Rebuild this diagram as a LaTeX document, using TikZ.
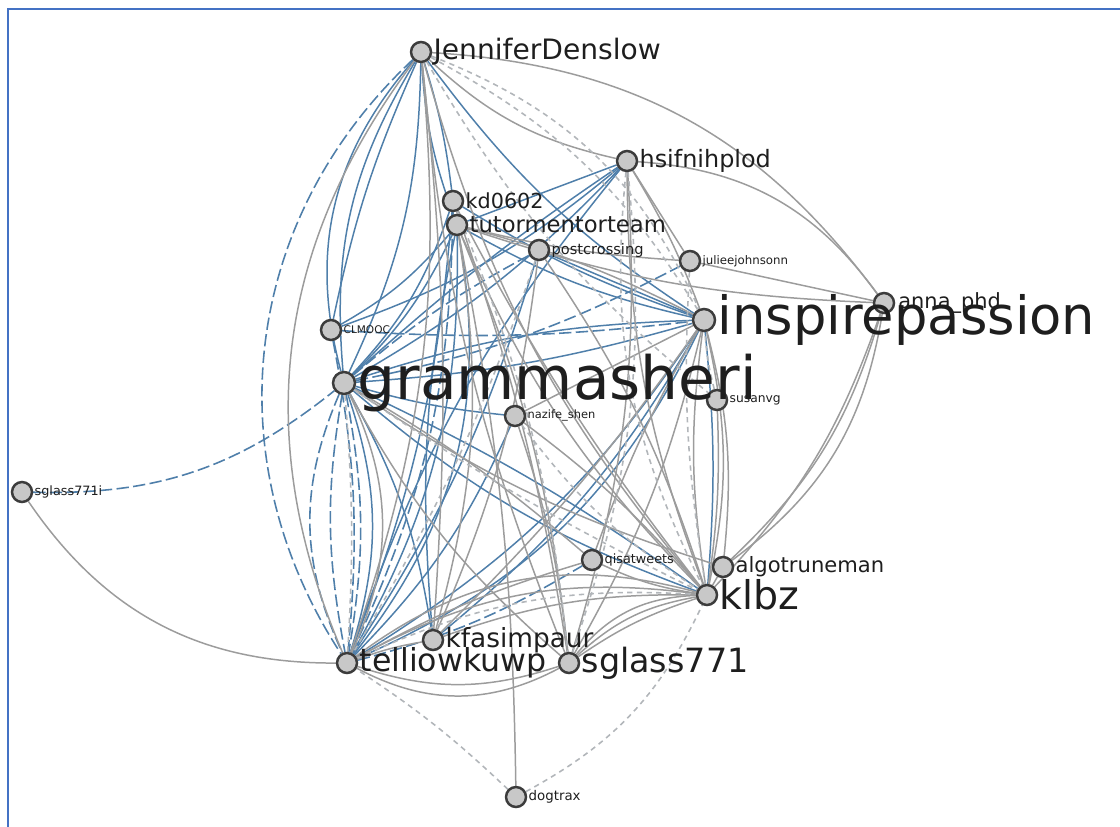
\documentclass[tikz,border=0pt]{standalone}
\usepackage{fontspec}
\setmainfont{DejaVu Sans}
\usepackage{tikz}
\usetikzlibrary{positioning}
\usepackage{xcolor}
\definecolor{graphblue}{HTML}{4F7FAA}
\definecolor{graphgrey}{HTML}{9C9C9C}
\definecolor{dashgrey}{HTML}{B2B6BA}
\definecolor{nodegrey}{HTML}{C8C8C8}
\definecolor{nodeline}{HTML}{3C3C3C}
\definecolor{frameblue}{HTML}{4472C4}
\definecolor{labelink}{HTML}{1E1E1E}
\pgfdeclarelayer{edges}
\pgfsetlayers{edges,main}
\newcommand{\lblsize}[1]{\fontsize{#1}{#1}\selectfont}
\tikzset{
  user/.style={
    circle,
    draw=nodeline,
    fill=nodegrey,
    line width=1.4pt,
    minimum size=4mm,
    inner sep=0pt
  },
  tag/.style={
    text=labelink,
    inner sep=0.6pt,
    font=\lblsize{#1}
  },
  greyedge/.style={draw=graphgrey, line width=0.85pt},
  blueedge/.style={draw=graphblue, line width=0.85pt},
  greydash/.style={draw=dashgrey, line width=0.9pt, dash pattern=on 3pt off 2.5pt},
  bluedash/.style={draw=graphblue, line width=0.9pt, dash pattern=on 7pt off 2.5pt},
  frame/.style={draw=frameblue, line width=1.7pt}
}
\begin{document}
\begin{tikzpicture}[x=0.2mm, y=-0.2mm]
\useasboundingbox (0,0) rectangle (1120,827);
\draw[frame] (1120,9) -- (8,9) -- (8,827);
% users
\node[user, label={[tag=16]right:JenniferDenslow}] (jennifer) at (421,52) {};
\node[user, label={[tag=13.6]right:hsifnihplod}] (hsif) at (627,161) {};
\node[user, label={[tag=11.8]right:kd0602}] (kd) at (453,201) {};
\node[user, label={[tag=12.9]right:tutormentorteam}] (tutor) at (457,225) {};
\node[user, label={[tag=8.3]right:postcrossing}] (postc) at (539,250) {};
\node[user, label={[tag=6.7]right:julieejohnsonn}] (julie) at (690,261) {};
\node[user] (anna) at (884,303) {};
\node[user, minimum size=4.4mm, label={[tag=30]right:inspirepassion}] (inspire) at (704,320) {};
\node[tag=11.9, anchor=west] (annatag) at (897,303) {anna\_phd};
\node[user, label={[tag=6]right:CLMOOC}] (clmooc) at (331,330) {};
\node[user, label={[tag=7]right:susanvg}] (susan) at (717,400) {};
\node[user, minimum size=4.4mm, label={[tag=34]right:grammasheri}] (gramma) at (344,383) {};
\node[user, label={[tag=6.5]right:nazife\_shen}] (nazife) at (515,416) {};
\node[user, label={[tag=7.3]right:sglass771i}] (sglassi) at (22,492) {};
\node[user, label={[tag=7.3]right:qisatweets}] (qisa) at (592,560) {};
\node[user, label={[tag=12]right:algotruneman}] (algo) at (723,567) {};
\node[user, label={[tag=22.5]right:klbz}] (klbz) at (707,595) {};
\node[user, label={[tag=15]right:kfasimpaur}] (kfas) at (433,640) {};
\node[user, label={[tag=18]right:telliowkuwp}] (tellio) at (347,663) {};
\node[user, label={[tag=19]right:sglass771}] (sglass) at (569,663) {};
\node[user, label={[tag=7.6]right:dogtrax}] (dogtrax) at (516,797) {};
% mentions
\begin{pgfonlayer}{edges}
\foreach \a/\b/\c in {jennifer/gramma/-18, jennifer/gramma/-28, jennifer/gramma/12,
    jennifer/clmooc/-6, jennifer/kd/5, jennifer/tutor/-8, jennifer/inspire/-10,
    hsif/tutor/0, hsif/gramma/8, hsif/gramma/-4, hsif/tellio/-10,
    tutor/gramma/10, tutor/tellio/15, tutor/tellio/24, tutor/inspire/-8,
    kd/gramma/12, kd/inspire/-6, kd/tellio/8, gramma/inspire/8,
    gramma/inspire/-6, gramma/klbz/-10, gramma/klbz/5, gramma/kfas/10,
    tellio/inspire/-12, tellio/inspire/-20, tellio/postc/-8, nazife/tellio/10,
    kfas/tutor/8, inspire/klbz/5, postc/inspire/0, clmooc/tutor/-10,
    gramma/nazife/-5, kfas/inspire/-10, hsif/clmooc/10, gramma/tellio/18}
  \draw[blueedge] (\a) to[bend left=\c] (\b);
\foreach \a/\b/\c in {jennifer/tellio/-40, sglassi/gramma/-20, gramma/tellio/-10,
    gramma/tellio/-24, tellio/kd/-12, tellio/qisa/-8, clmooc/inspire/-5,
    gramma/julie/-8, clmooc/tellio/8, gramma/postc/6, gramma/tellio/10}
  \draw[bluedash] (\a) to[bend left=\c] (\b);
\foreach \a/\b/\c in {jennifer/hsif/-15, jennifer/anna/25, jennifer/klbz/-12,
    jennifer/sglass/-8, jennifer/tellio/12, jennifer/tellio/-30, jennifer/kfas/5,
    hsif/anna/25, hsif/inspire/5, hsif/klbz/-10, hsif/julie/0, hsif/sglass/10,
    anna/algo/15, anna/algo/22, anna/klbz/12, anna/tutor/8, julie/anna/0,
    julie/tutor/5, inspire/klbz/-8, inspire/klbz/12, inspire/algo/10,
    inspire/sglass/8, inspire/kfas/5, inspire/nazife/0, inspire/qisa/-5,
    gramma/sglass/-10, gramma/algo/-8, gramma/qisa/5, gramma/tellio/25,
    klbz/sglass/-8, klbz/sglass/-16, klbz/sglass/-24, klbz/tellio/-18,
    klbz/tellio/-26, klbz/kfas/-10, klbz/qisa/8, klbz/tutor/10, klbz/nazife/-6,
    tellio/sglass/-28, tellio/sglass/-18, tellio/kfas/5, sglass/tutor/-8,
    sglass/kd/-5, kfas/tutor/-12, sglassi/tellio/-28, dogtrax/tutor/-5,
    algo/klbz/0, qisa/tellio/-6, postc/klbz/8, susan/klbz/5, kfas/postc/-8,
    tutor/inspire/6, kd/klbz/-5, nazife/sglass/6}
  \draw[greyedge] (\a) to[bend left=\c] (\b);
\foreach \a/\b/\c in {jennifer/inspire/15, jennifer/inspire/22, jennifer/susan/-10,
    dogtrax/tellio/-5, dogtrax/klbz/-18, hsif/klbz/-16, gramma/klbz/-4,
    susan/inspire/5, tellio/gramma/-4, sglass/hsif/-12, postc/tellio/6,
    nazife/klbz/-10, kd/sglass/8, julie/klbz/-6, tellio/klbz/14}
  \draw[greydash] (\a) to[bend left=\c] (\b);
\end{pgfonlayer}
\end{tikzpicture}
\end{document}
